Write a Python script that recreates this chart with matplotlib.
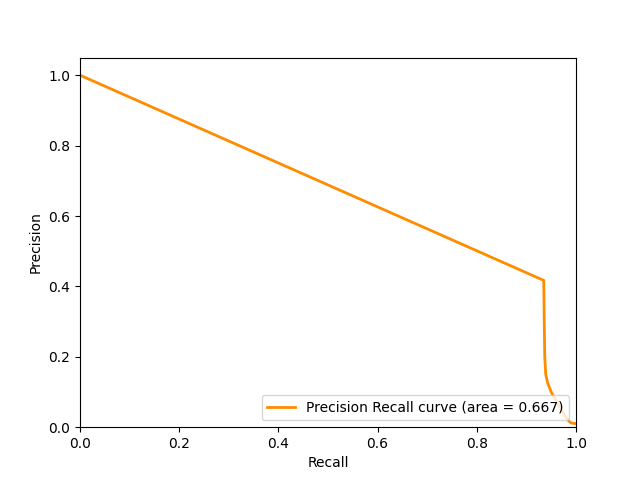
import matplotlib
matplotlib.use("Agg")
import matplotlib.pyplot as plt

# values
recall = [0.0, 0.935, 0.936, 0.937, 0.939, 0.943, 0.95, 0.96, 0.972, 0.985, 0.99, 1.0]
precision = [1.0, 0.417, 0.30, 0.20, 0.15, 0.125, 0.10, 0.075, 0.045, 0.018, 0.012, 0.01]
area = 0.667

fig = plt.figure(figsize=(6.4, 4.8), dpi=100)
plt.plot(recall, precision, color='darkorange', lw=2,
         label='Precision Recall curve (area = %0.3f)' % area)
plt.xlim([0.0, 1.0])
plt.ylim([0.0, 1.05])
plt.xlabel('Recall')
plt.ylabel('Precision')
plt.legend(loc="lower right")
fig.savefig("out.png")
